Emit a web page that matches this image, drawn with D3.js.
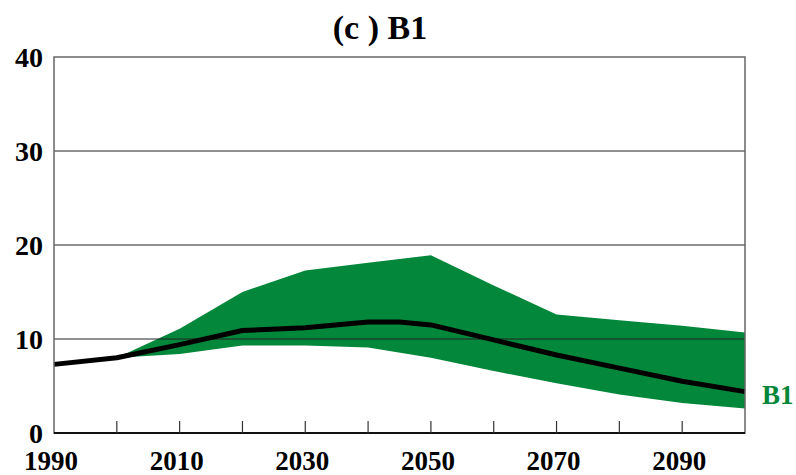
<!DOCTYPE html>
<html>
<head>
    <script src="https://cdn.jsdelivr.net/npm/d3@7"></script>
    <style>
        body { margin: 0; background: #fff; }
    </style>
</head>
<body>
    <div id="viz"></div>
    <script type="text/javascript">

    // data
    var years   = [1990, 2000, 2010, 2020, 2030, 2040, 2050, 2060, 2070, 2080, 2090, 2100];
    var upper   = [7.3, 8.0, 11.1, 15.0, 17.3, 18.1, 18.9, 15.7, 12.6, 12.0, 11.4, 10.7];
    var lower   = [7.3, 8.0, 8.4, 9.3, 9.3, 9.1, 8.0, 6.6, 5.3, 4.1, 3.2, 2.6];
    var midYears = [1990, 2000, 2010, 2020, 2030, 2040, 2045, 2050, 2060, 2070, 2080, 2090, 2100];
    var middle  = [7.3, 8.0, 9.4, 10.9, 11.2, 11.8, 11.8, 11.5, 9.9, 8.3, 6.9, 5.5, 4.4];
    var yTicks  = [0, 10, 20, 30, 40];
    var xLabels = [1990, 2010, 2030, 2050, 2070, 2090];
    var xTicks  = [2000, 2010, 2020, 2030, 2040, 2050, 2060, 2070, 2080, 2090];

    var green = "#03873a";
    var serif = "'Times New Roman', 'Liberation Serif', Times, serif";

    var svg = d3.select("#viz")
        .append("svg")
        .attr("width", 796)
        .attr("height", 475)
        .attr("font-family", serif)
        .attr("font-weight", "bold");

    var x = d3.scaleLinear().domain([1990, 2100]).range([54, 745]);
    var y = d3.scaleLinear().domain([0, 40]).range([433, 57]);

    // band
    var area = d3.area()
        .x(function(d, i) { return x(years[i]); })
        .y0(function(d, i) { return y(lower[i]); })
        .y1(function(d, i) { return y(upper[i]); });

    svg.append("path")
        .datum(years)
        .attr("d", area)
        .style("fill", green);

    // grid lines
    svg.selectAll("line.grid")
        .data([10, 20, 30])
        .enter().append("line")
        .attr("class", "grid")
        .attr("x1", x(1990)).attr("x2", x(2100))
        .attr("y1", function(d) { return y(d); })
        .attr("y2", function(d) { return y(d); })
        .style("stroke", "#222")
        .style("stroke-width", 1);

    // central line
    var line = d3.line()
        .x(function(d, i) { return x(midYears[i]); })
        .y(function(d) { return y(d); });

    svg.append("path")
        .datum(middle)
        .attr("d", line)
        .style("fill", "none")
        .style("stroke", "#000")
        .style("stroke-width", 5)
        .style("stroke-linejoin", "round");

    // frame
    svg.append("rect")
        .attr("x", x(1990)).attr("y", y(40))
        .attr("width", x(2100) - x(1990))
        .attr("height", y(0) - y(40))
        .style("fill", "none")
        .style("stroke", "#666")
        .style("stroke-width", 1.5);

    svg.append("line")
        .attr("x1", x(1990)).attr("x2", x(2100))
        .attr("y1", y(0)).attr("y2", y(0))
        .style("stroke", "#111")
        .style("stroke-width", 2);

    // inward ticks on the bottom axis
    svg.selectAll("line.xtick")
        .data(xTicks)
        .enter().append("line")
        .attr("class", "xtick")
        .attr("x1", function(d) { return x(d); })
        .attr("x2", function(d) { return x(d); })
        .attr("y1", y(0) - 12)
        .attr("y2", y(0))
        .style("stroke", "#333")
        .style("stroke-width", 1.2);

    // labels
    svg.selectAll("text.ylab")
        .data(yTicks)
        .enter().append("text")
        .attr("class", "ylab")
        .attr("x", 43)
        .attr("y", function(d) { return y(d); })
        .attr("dy", "0.35em")
        .attr("text-anchor", "end")
        .style("font-size", "28px")
        .text(function(d) { return d; });

    svg.selectAll("text.xlab")
        .data(xLabels)
        .enter().append("text")
        .attr("class", "xlab")
        .attr("x", function(d) { return x(d) - 3; })
        .attr("y", 470)
        .attr("text-anchor", "middle")
        .style("font-size", "27px")
        .text(function(d) { return d; });

    svg.append("text")
        .attr("x", 380)
        .attr("y", 39)
        .attr("text-anchor", "middle")
        .style("font-size", "34px")
        .text("(c ) B1");

    svg.append("text")
        .attr("x", 762)
        .attr("y", 404)
        .style("font-size", "27px")
        .style("fill", green)
        .text("B1");

    </script>
</body>
</html>
